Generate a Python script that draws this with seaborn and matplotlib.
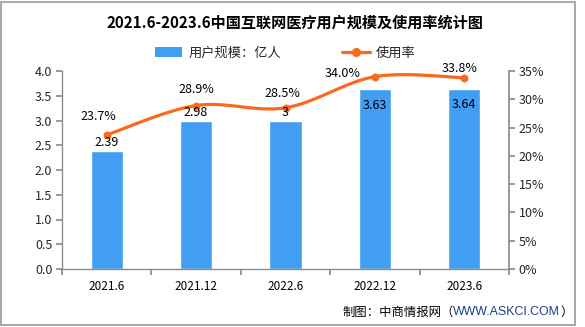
import numpy as np
import pandas as pd
import matplotlib
matplotlib.use("Agg")
import matplotlib.pyplot as plt
import seaborn as sns
from matplotlib.patches import Rectangle
from matplotlib.lines import Line2D
from matplotlib.patches import Patch

categories = ["2021.6", "2021.12", "2022.6", "2022.12", "2023.6"]
users = [2.39, 2.98, 3.00, 3.63, 3.64]
user_labels = ["2.39", "2.98", "3", "3.63", "3.64"]
rate = [23.7, 28.9, 28.5, 34.0, 33.8]
rate_labels = ["23.7%", "28.9%", "28.5%", "34.0%", "33.8%"]

sns.set_theme(style="white")
plt.rcParams["font.family"] = ["Noto Sans CJK SC", "DejaVu Sans"]

BLUE = "#419EF2"
ORANGE = "#FA6A1E"
GRAY = "#8c8c8c"

fig = plt.figure(figsize=(5.85, 3.27), dpi=100)
ax = fig.add_axes([62/585, 1-269/327, (509-62)/585, (269-71)/327])

df = pd.DataFrame({"cat": categories, "users": users})
sns.barplot(data=df, x="cat", y="users", color=BLUE, width=0.36, saturation=1, ax=ax)
ax.set_ylim(0, 4.0)
ax.set_xlim(-0.5, 4.5)
ax.set_yticks(np.arange(0, 4.01, 0.5))
ax.set_yticklabels([f"{v:.1f}" for v in np.arange(0, 4.01, 0.5)])
ax.set_xlabel("")
ax.set_ylabel("")
ax.set_xticks(np.arange(-0.5, 4.6, 1.0), minor=False)
ax.set_xticklabels([])
ax.set_xticks(range(5), minor=True)
ax.set_xticklabels(categories, minor=True)
ax.tick_params(axis="x", which="major", length=4, color=GRAY, direction="out", bottom=True)
ax.tick_params(axis="x", which="minor", length=0, labelsize=8.5, pad=8, colors="black")
ax.tick_params(axis="y", length=4, color=GRAY, direction="out", labelsize=9, left=True, pad=3)
for s in ["top", "right"]:
    ax.spines[s].set_visible(False)
for s in ["left", "bottom"]:
    ax.spines[s].set_color(GRAY)
    ax.spines[s].set_linewidth(1)

ax2 = ax.twinx()
ax2.set_ylim(0, 35)
ax2.set_yticks(range(0, 36, 5))
ax2.set_yticklabels([f"{v}%" for v in range(0, 36, 5)])
ax2.tick_params(axis="y", length=4, color=GRAY, direction="out", labelsize=9, right=True, pad=3)
for s in ["top", "left", "bottom"]:
    ax2.spines[s].set_visible(False)
ax2.spines["right"].set_color(GRAY)
ax2.grid(False)
ax.grid(False)

# smooth curve through the points (cardinal spline rendering)
x = np.arange(len(rate), dtype=float)
y = np.array(rate, dtype=float)
xs, ys = [], []
t = np.linspace(0, 1, 30)
for i in range(len(x) - 1):
    p0 = np.array([x[max(i-1, 0)], y[max(i-1, 0)]])
    p1 = np.array([x[i], y[i]])
    p2 = np.array([x[i+1], y[i+1]])
    p3 = np.array([x[min(i+2, len(x)-1)], y[min(i+2, len(x)-1)]])
    m1 = (p2 - p0) * 0.5
    m2 = (p3 - p1) * 0.5
    h00 = 2*t**3 - 3*t**2 + 1
    h10 = t**3 - 2*t**2 + t
    h01 = -2*t**3 + 3*t**2
    h11 = t**3 - t**2
    pts = (h00[:, None]*p1 + h10[:, None]*m1 + h01[:, None]*p2 + h11[:, None]*m2)
    xs.extend(pts[:, 0]); ys.extend(pts[:, 1])
ax2.plot(xs, ys, color=ORANGE, lw=2.3, solid_capstyle="round", zorder=3)
sns.scatterplot(x=x, y=y, color=ORANGE, s=32, edgecolor=ORANGE, linewidth=0, ax=ax2, zorder=4, legend=False)

# bar labels (drawn on top axes so they sit above the line)
bar_off = [6, 6.5, 6, -11.5, -11.5]
for i, (v, lab) in enumerate(zip(users, user_labels)):
    ax2.annotate(lab, (i, v), xycoords=ax.transData, xytext=(0, bar_off[i]), textcoords="offset points",
                 ha="center", va="center", fontsize=9, color="black", zorder=6)

rate_off = [(-6, 13), (0, 11.5), (-2, 10), (-23, 2), (-3.6, 7)]
for i, (v, lab) in enumerate(zip(rate, rate_labels)):
    ax2.annotate(lab, (i, v), xytext=rate_off[i], textcoords="offset points",
                 ha="center", va="center", fontsize=9, color="black", zorder=6)

# title
fig.text(295/585, 1-23/327, "2021.6-2023.6中国互联网医疗用户规模及使用率统计图",
         ha="center", va="center", fontsize=10.9, fontweight="bold", color="black")

# legend
handles = [Patch(facecolor=BLUE, edgecolor="none"),
           Line2D([0], [0], color=ORANGE, lw=2.3, marker="o", markersize=5.5)]
fig.legend(handles, ["用户规模：亿人", "使用率"], loc="center", bbox_to_anchor=(285/585, 1-53/327),
           ncol=2, frameon=False, fontsize=9.5, handlelength=2.1, handleheight=0.8,
           columnspacing=4.6, handletextpad=0.45)

# source
t1 = fig.text(342/585, 1-312/327, "制图：中商情报网（", ha="left", va="center", fontsize=8.9, color="black")
a2 = ax.annotate("WWW.ASKCI.COM", xy=(1, 0.5), xycoords=t1, ha="left", va="center",
                 fontsize=8.9, color="#1c3f8c", family=["Liberation Sans", "DejaVu Sans"],
                 annotation_clip=False)
ax.annotate("）", xy=(1, 0.5), xycoords=a2, ha="left", va="center", fontsize=8.9,
            color="black", annotation_clip=False)

# frame
fig.patches.append(Rectangle((1/585, 1-325/327), 574/585, 323/327, transform=fig.transFigure,
                             fill=False, edgecolor="#999999", lw=1.2))

fig.savefig("out.png", dpi=100)
